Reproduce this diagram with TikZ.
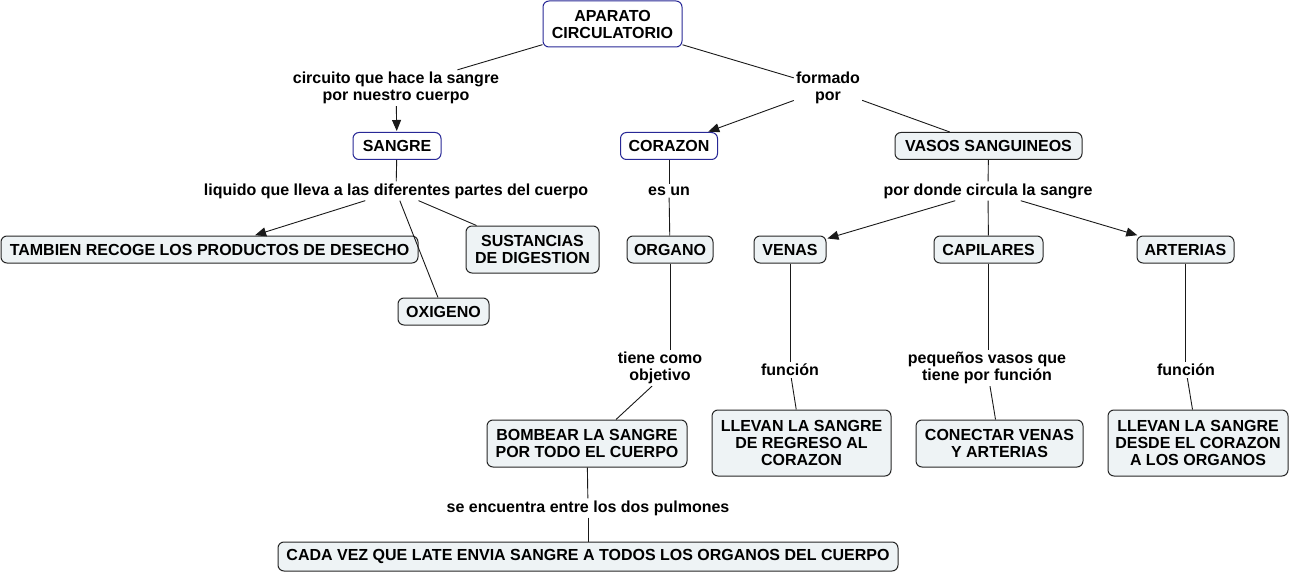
\documentclass[tikz,border=0pt]{standalone}
\usepackage{fontspec}
\setmainfont{Liberation Sans}
\usetikzlibrary{arrows.meta}
\definecolor{boxfill}{RGB}{238,243,245}
\definecolor{blueb}{RGB}{40,40,150}
\begin{document}
\begin{tikzpicture}[x=1pt,y=-1pt,
  font=\fontsize{16}{17}\selectfont\bfseries,
  base/.style={rounded corners=6pt, line width=1pt, align=center, inner sep=0pt},
  concept/.style={base, draw=black!85, fill=boxfill},
  bconcept/.style={base, draw=blueb, fill=white},
  link/.style={align=center, inner sep=2pt},
  conn/.style={line width=0.9pt, draw=black!90},
  arr/.style={conn, -{Triangle[length=11pt,width=9pt]}, shorten >=1pt}]
\useasboundingbox (0,0) rectangle (1291,575);

% concepts
\node[bconcept, minimum width=139pt, minimum height=46pt] (apc) at (612.5,24) {APARATO\\CIRCULATORIO};
\node[bconcept, minimum width=88pt, minimum height=27pt] (sangre) at (397,146) {SANGRE};
\node[bconcept, minimum width=97pt, minimum height=27pt] (corazon) at (669,146) {CORAZON};
\node[concept, minimum width=187pt, minimum height=27pt] (vasos) at (988.5,146) {VASOS SANGUINEOS};
\node[concept, minimum width=417pt, minimum height=27pt] (tambien) at (209.5,249.5) {TAMBIEN RECOGE LOS PRODUCTOS DE DESECHO};
\node[concept, minimum width=133pt, minimum height=47pt] (sust) at (532.5,249.5) {SUSTANCIAS\\DE DIGESTION};
\node[concept, minimum width=91pt, minimum height=27pt] (oxig) at (443.5,311.5) {OXIGENO};
\node[concept, minimum width=86pt, minimum height=27pt] (organo) at (670,249.5) {ORGANO};
\node[concept, minimum width=72pt, minimum height=27pt] (venas) at (790,249.5) {VENAS};
\node[concept, minimum width=109pt, minimum height=27pt] (capil) at (988.5,249.5) {CAPILARES};
\node[concept, minimum width=97pt, minimum height=27pt] (arterias) at (1185.5,249.5) {ARTERIAS};
\node[concept, minimum width=200pt, minimum height=47pt] (bombear) at (587,443.5) {BOMBEAR LA SANGRE\\POR TODO EL CUERPO};
\node[concept, minimum width=179pt, minimum height=66pt] (llevan1) at (801.5,443) {LLEVAN LA SANGRE\\DE REGRESO AL\\CORAZON};
\node[concept, minimum width=167pt, minimum height=47pt] (conectar) at (999.5,443.5) {CONECTAR VENAS\\Y ARTERIAS};
\node[concept, minimum width=180pt, minimum height=66pt] (llevan2) at (1198,443) {LLEVAN LA SANGRE\\DESDE EL CORAZON\\A LOS ORGANOS};
\node[concept, minimum width=620pt, minimum height=29pt] (cada) at (588,556.5) {CADA VEZ QUE LATE ENVIA SANGRE A TODOS LOS ORGANOS DEL CUERPO};

% linking phrases
\node[link] (l1) at (396,88) {circuito que hace la sangre\\por nuestro cuerpo};
\node[link] (l2) at (828,88) {formado\\por};
\node[link] (l3) at (396,191) {liquido que lleva a las diferentes partes del cuerpo};
\node[link] (l4) at (669,191) {es un};
\node[link] (l5) at (988,191) {por donde circula la sangre};
\node[link] (l6) at (660,368) {tiene como\\objetivo};
\node[link] (l7) at (790,370) {función};
\node[link] (l8) at (987,368) {pequeños vasos que\\tiene por función};
\node[link] (l9) at (1186,370) {función};
\node[link] (l10) at (588,508) {se encuentra entre los dos pulmones};

% connectors
\draw[conn] (apc) -- (l1);
\draw[arr] (l1) -- (sangre);
\draw[conn] (apc) -- (l2);
\draw[arr] (l2) -- (corazon);
\draw[conn] (l2) -- (vasos);
\draw[conn] (sangre) -- (l3);
\draw[arr] (l3) -- (tambien);
\draw[conn] (l3) -- (oxig);
\draw[conn] (l3) -- (sust);
\draw[conn] (corazon) -- (l4);
\draw[conn] (l4) -- (organo);
\draw[conn] (vasos) -- (l5);
\draw[arr] (l5) -- (venas);
\draw[conn] (l5) -- (capil);
\draw[arr] (l5) -- (arterias);
\draw[conn] (organo) -- (organo |- l6.north);
\draw[conn] ([xshift=-8pt]l6.south) -- ([xshift=29pt]bombear.north);
\draw[conn] (venas) -- (venas |- l7.north);
\draw[conn] (l7) -- (llevan1);
\draw[conn] (capil) -- (capil |- l8.north);
\draw[conn] (l8) -- (conectar);
\draw[conn] (arterias) -- (arterias |- l9.north);
\draw[conn] (l9) -- (llevan2);
\draw[conn] (bombear) -- (l10);
\draw[conn] (l10) -- (cada);
\end{tikzpicture}
\end{document}
